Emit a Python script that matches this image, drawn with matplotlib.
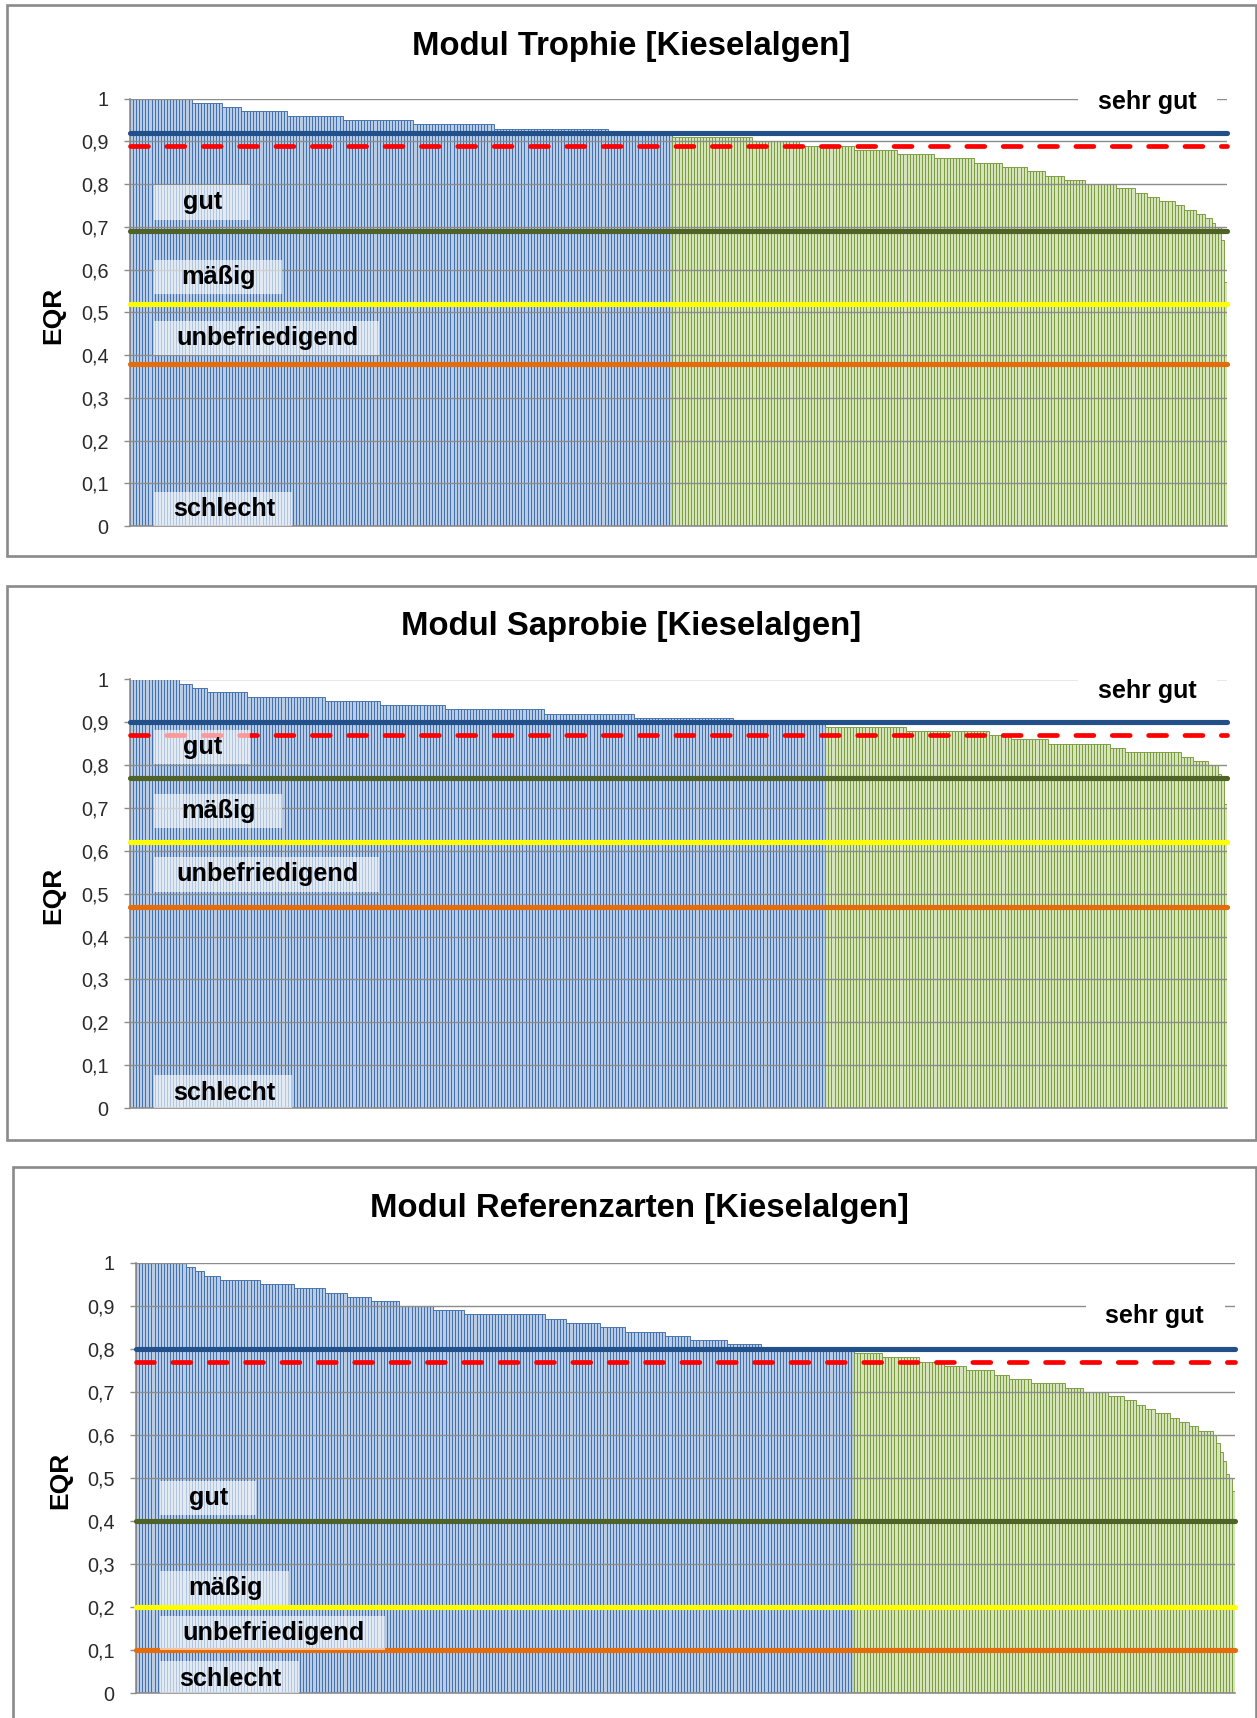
import matplotlib
matplotlib.use("Agg")
import matplotlib.pyplot as plt
import matplotlib.transforms as mtransforms
from matplotlib.patches import Rectangle
import numpy as np

# ---------------------------------------------------------------- data
# EQR values per module, sorted descending, stored as (level, number of sites)
trophie_levels = [1.00, 0.99, 0.98, 0.97, 0.96, 0.95, 0.94, 0.93, 0.92,
                  0.91, 0.90, 0.89, 0.88, 0.87, 0.86, 0.85, 0.84, 0.83, 0.82,
                  0.81, 0.80, 0.79, 0.78, 0.77, 0.76, 0.75, 0.74, 0.73, 0.72,
                  0.71, 0.70, 0.67, 0.57]
trophie_counts = [20, 10, 6, 15, 18, 23, 26, 37, 21,
                  26, 15, 18, 14, 12, 13, 9, 8, 6, 6,
                  7, 10, 6, 4, 4, 5, 3, 4, 3, 2,
                  1, 2, 1, 1]

saprobie_levels = [1.00, 0.99, 0.98, 0.97, 0.96, 0.95, 0.94, 0.93, 0.92, 0.91,
                   0.90, 0.89, 0.88, 0.87, 0.86, 0.85, 0.84, 0.83, 0.82, 0.81,
                   0.80, 0.78, 0.77, 0.71]
saprobie_counts = [16, 4, 5, 13, 25, 18, 21, 32, 29, 32,
                   30, 26, 27, 7, 12, 20, 5, 18, 4, 5,
                   3, 1, 1, 1]

referenz_levels = [1.00, 0.99, 0.98, 0.97, 0.96, 0.95, 0.94, 0.93, 0.92, 0.91,
                   0.90, 0.89, 0.88, 0.87, 0.86, 0.85, 0.84, 0.83, 0.82, 0.81,
                   0.80, 0.79, 0.78, 0.77, 0.76, 0.75, 0.74, 0.73, 0.72, 0.71,
                   0.70, 0.69, 0.68, 0.67, 0.66, 0.65, 0.64, 0.63, 0.62, 0.61,
                   0.60, 0.58, 0.56, 0.54, 0.51, 0.50, 0.47]
referenz_counts = [16, 3, 3, 5, 13, 11, 10, 7, 8, 9,
                   11, 10, 26, 7, 11, 8, 13, 8, 12, 11,
                   30, 9, 12, 8, 7, 9, 5, 7, 11, 6,
                   8, 5, 4, 3, 3, 5, 3, 3, 3, 5,
                   1, 1, 1, 1, 1, 1, 1]

# class boundaries: sehr gut/gut, gut/maessig, maessig/unbefriedigend, unbefriedigend/schlecht
trophie_bounds = [0.92, 0.69, 0.52, 0.38]
saprobie_bounds = [0.90, 0.77, 0.62, 0.47]
referenz_bounds = [0.80, 0.40, 0.20, 0.10]
# dashed reference line
trophie_ref = 0.89
saprobie_ref = 0.87
referenz_ref = 0.77

titles = ["Modul Trophie [Kieselalgen]",
          "Modul Saprobie [Kieselalgen]",
          "Modul Referenzarten [Kieselalgen]"]
class_names = ["sehr gut", "gut", "mäßig", "unbefriedigend", "schlecht"]
ytick_values = [0, 0.1, 0.2, 0.3, 0.4, 0.5, 0.6, 0.7, 0.8, 0.9, 1.0]
ytick_labels = ["0", "0,1", "0,2", "0,3", "0,4", "0,5", "0,6", "0,7", "0,8", "0,9", "1"]

# ---------------------------------------------------------------- style
W, H = 1257, 1718
plt.rcParams["font.family"] = ["Liberation Sans", "DejaVu Sans"]
fig = plt.figure(figsize=(W / 100, H / 100), dpi=100)

BLUE_FILL, BLUE_EDGE = "#b8cce6", "#3f6dab"
GREEN_FILL, GREEN_EDGE = "#d6e4bb", "#789a3a"
LINE_COLORS = ["#24508a", "#4f6228", "#ffff00", "#e46c0a"]
GRID = "#8c8c8c"


def px_axes(left, right, top, bottom):
    return fig.add_axes([left / W, 1 - bottom / H, (right - left) / W, (bottom - top) / H])


def frame(x0, x1, y0, y1):
    fig.add_artist(Rectangle((x0 / W, 1 - y1 / H), (x1 - x0) / W, (y1 - y0) / H,
                             transform=fig.transFigure, fill=False,
                             ec="#8a8a8a", lw=1.9, zorder=0))


def panel(ax, levels, counts, bounds, ref, label_y, title, title_xy, eqr_xy):
    values = np.repeat(levels, counts)
    n = len(values)
    x = np.arange(n)
    top_class = values >= bounds[0]
    fills = np.where(top_class, BLUE_FILL, GREEN_FILL)
    edges = np.where(top_class, BLUE_EDGE, GREEN_EDGE)
    ax.bar(x, values, width=1.0, color=fills, edgecolor=edges,
           linewidth=0.65, zorder=1)

    ax.set_xlim(-0.5, n - 0.5)
    ax.set_ylim(0, 1)
    ax.set_xticks([])
    ax.set_yticks(ytick_values)
    ax.set_yticklabels(ytick_labels)
    ax.tick_params(axis="y", length=4.5, width=1.0, color=GRID, pad=11,
                   labelsize=14.3, labelcolor="#2a2a2a")
    ax.yaxis.grid(True, color=GRID, lw=1.0, zorder=2)
    ax.set_axisbelow(False)
    for s in ("top", "right"):
        ax.spines[s].set_visible(False)
    for s in ("left", "bottom"):
        ax.spines[s].set_color(GRID)
        ax.spines[s].set_linewidth(1.2)

    # class boundary lines and the dashed reference line
    for v, c in zip(bounds, LINE_COLORS):
        ax.plot([-0.5, n - 0.5], [v, v], color=c, lw=3.7,
                solid_capstyle="round", zorder=4, clip_on=False)
    ax.plot([-0.5, n - 0.5], [ref, ref], color="#ff0000", lw=3.4,
            dashes=(3.8, 3.9), dash_capstyle="round", zorder=4, clip_on=False)

    # class names on translucent boxes
    trans = mtransforms.blended_transform_factory(ax.transAxes, ax.transData)
    boxes = {"gut": (0.066, 0.109), "mäßig": (0.081, 0.139),
             "unbefriedigend": (0.125, 0.227), "schlecht": (0.086, 0.148)}
    for name in class_names[1:]:
        cx, right = boxes[name]
        y = label_y[name]
        ax.add_patch(Rectangle((0.022, y - 0.04), right - 0.022, 0.08,
                               transform=trans, fc="white", ec="none",
                               alpha=0.6, zorder=5))
        ax.text(cx, y, name, transform=trans, ha="center", va="center",
                fontsize=18.2, fontweight="bold", color="black", zorder=6)
    y = label_y["sehr gut"]
    ax.add_patch(Rectangle((0.864, y - 0.035), 0.127, 0.07, transform=trans,
                           fc="white", ec="none", zorder=3))
    ax.text(0.927, y, "sehr gut", transform=trans, ha="center", va="center",
            fontsize=18, fontweight="bold", color="black", zorder=6)

    fig.text(title_xy[0] / W, 1 - title_xy[1] / H, title, ha="center",
             va="center", fontsize=23.7, fontweight="bold")
    fig.text(eqr_xy[0] / W, 1 - eqr_xy[1] / H, "EQR", ha="center",
             va="center", rotation=90, fontsize=19, fontweight="bold")


frame(7, 1256, 5, 556)
frame(7, 1256, 586, 1140)
frame(13, 1256, 1167, 1740)

ax1 = px_axes(130, 1227, 98.6, 526)
ax2 = px_axes(130, 1227, 679.5, 1108)
ax3 = px_axes(136, 1235, 1262.6, 1693.3)

panel(ax1, trophie_levels, trophie_counts, trophie_bounds, trophie_ref,
      {"sehr gut": 0.992, "gut": 0.757, "mäßig": 0.583,
       "unbefriedigend": 0.439, "schlecht": 0.039},
      titles[0], (631, 46), (53, 315))
panel(ax2, saprobie_levels, saprobie_counts, saprobie_bounds, saprobie_ref,
      {"sehr gut": 0.974, "gut": 0.842, "mäßig": 0.693,
       "unbefriedigend": 0.545, "schlecht": 0.036},
      titles[1], (631, 627), (53, 895))
panel(ax3, referenz_levels, referenz_counts, referenz_bounds, referenz_ref,
      {"sehr gut": 0.876, "gut": 0.454, "mäßig": 0.245,
       "unbefriedigend": 0.140, "schlecht": 0.034},
      titles[2], (639, 1209), (60, 1480))

fig.savefig("out.png", dpi=100)
